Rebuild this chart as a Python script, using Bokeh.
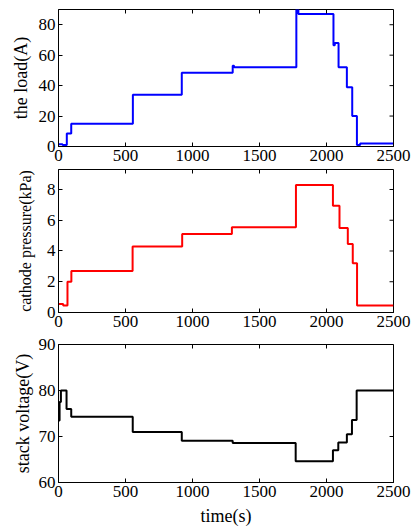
from bokeh.plotting import figure
from bokeh.models import Range1d, FixedTicker
from bokeh.layouts import column
from bokeh.embed import file_html
from bokeh.resources import INLINE

# ---- data ----
load_t = [0, 30, 62, 95, 555, 920, 1300, 1310, 1775, 1790, 2052, 2062, 2090, 2152, 2192, 2227, 2251, 2500]
load_a = [1.5, 1.0, 8.5, 15, 34, 48.5, 53, 52, 90, 87, 66.5, 68, 52, 39, 20, 1, 2, 2]

press_t = [0, 35, 67, 96, 553, 923, 1294, 1772, 2048, 2097, 2159, 2196, 2228, 2500]
press_kpa = [0.55, 0.45, 2.0, 2.7, 4.3, 5.1, 5.55, 8.3, 6.95, 5.5, 4.45, 3.2, 0.45, 0.45]

volt_t = [0, 8, 18, 60, 95, 554, 920, 1300, 1770, 2048, 2088, 2152, 2190, 2225, 2500]
volt_v = [73.5, 77.5, 80, 76, 74.3, 71, 69.1, 68.6, 64.6, 67, 68.7, 70.5, 73.6, 80, 80]

x_ticks = [0, 500, 1000, 1500, 2000, 2500]
load_ticks = [0, 20, 40, 60, 80]
press_ticks = [0, 2, 4, 6, 8]
volt_ticks = [60, 70, 80, 90]

FONT = "Liberation Serif"
TICK_FS = "17px"
LABEL_FS = "18px"
W = 411
TICK_LEN = 4


def style_axis(ax, ticks):
    ax.ticker = FixedTicker(ticks=ticks)
    ax.major_tick_in = TICK_LEN
    ax.major_tick_out = 0
    ax.minor_tick_line_color = None
    ax.axis_line_color = "black"
    ax.major_tick_line_color = "black"
    ax.major_label_text_font = FONT
    ax.major_label_text_color = "black"
    ax.major_label_text_font_size = TICK_FS
    ax.major_label_standoff = 3
    ax.axis_label_text_font = FONT
    ax.axis_label_text_font_style = "normal"
    ax.axis_label_text_font_size = LABEL_FS
    ax.axis_label_text_color = "black"


def make_panel(xs, ys, color, yr, yticks, ylabel, height, borders, ylabel_standoff,
               xlabel=None, ylabel_fs=LABEL_FS):
    top, bottom, left, right = borders
    xr = (0, 2500)
    p = figure(width=W, height=height, output_backend="svg", toolbar_location=None,
               x_range=Range1d(*xr), y_range=Range1d(*yr),
               min_border_top=top, min_border_bottom=bottom,
               min_border_left=left, min_border_right=right)
    p.step(xs, ys, mode="after", line_color=color, line_width=2)
    p.xgrid.visible = False
    p.ygrid.visible = False
    p.outline_line_color = "black"
    p.outline_line_width = 1
    p.outline_line_alpha = 1
    style_axis(p.xaxis[0], x_ticks)
    style_axis(p.yaxis[0], yticks)
    p.yaxis[0].axis_label = ylabel
    p.yaxis[0].axis_label_standoff = ylabel_standoff
    p.yaxis[0].axis_label_text_font_size = ylabel_fs
    if xlabel:
        p.xaxis[0].axis_label = xlabel
        p.xaxis[0].axis_label_standoff = 6
    # inward ticks on the right and top edges (box on), derived from the tick lists
    fw = W - left - right
    fh = height - top - bottom
    dx = TICK_LEN * (xr[1] - xr[0]) / fw
    dy = TICK_LEN * (yr[1] - yr[0]) / fh
    p.segment(x0=[xr[1] - dx] * len(yticks), y0=yticks, x1=[xr[1]] * len(yticks), y1=yticks,
              line_color="black", line_width=1)
    p.segment(x0=x_ticks, y0=[yr[1] - dy] * len(x_ticks), x1=x_ticks, y1=[yr[1]] * len(x_ticks),
              line_color="black", line_width=1)
    p.background_fill_color = "white"
    p.border_fill_color = "white"
    return p


p1 = make_panel(load_t, load_a, "#0000ff", (0, 90), load_ticks, "the load(A)",
                166, (9, 20, 58, 17), 5)
p2 = make_panel(press_t, press_kpa, "#ff0000", (0, 9.3), press_ticks, "cathode pressure(kPa)",
                168, (3, 22, 55, 18), 10, ylabel_fs="16px")
p3 = make_panel(volt_t, volt_v, "black", (60, 90), volt_ticks, "stack voltage(V)",
                194, (10, 46, 54, 15), 3, xlabel="time(s)")

layout = column(p1, p2, p3, spacing=0)
open("out.html", "w").write(file_html(layout, INLINE))
